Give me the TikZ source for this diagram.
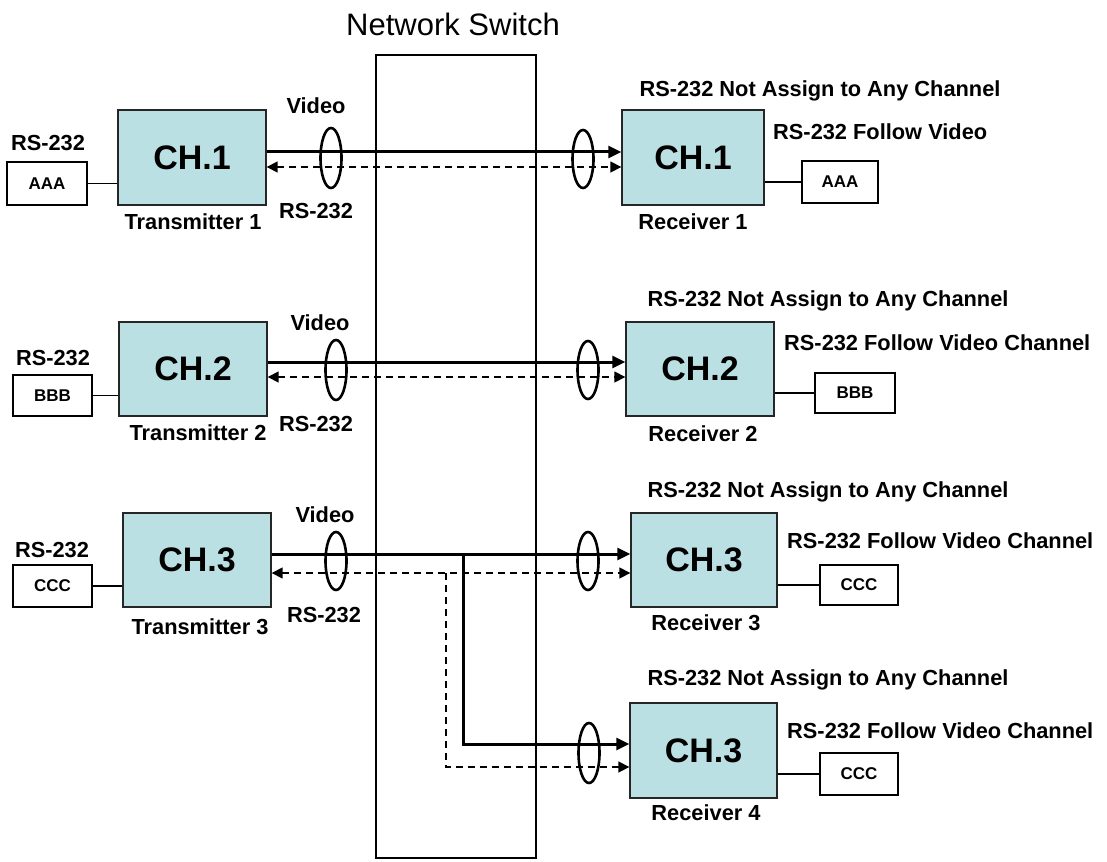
\documentclass[tikz,border=0pt]{standalone}
\usepackage{fontspec}
\setmainfont{Liberation Sans}
\usetikzlibrary{arrows.meta,shapes.geometric}
\definecolor{chfill}{RGB}{187,224,227}
\tikzset{
  chbox/.style={draw=black!85, line width=1.4pt, fill=chfill, inner sep=0pt,
    font=\fontsize{34}{38}\selectfont\bfseries},
  devbox/.style={draw=black, line width=1.1pt, fill=white, inner sep=0pt,
    font=\fontsize{17}{20}\selectfont\bfseries},
  lbl/.style={inner sep=0pt, font=\fontsize{21.8}{25}\selectfont\bfseries},
  video/.style={line width=3pt, -{Triangle[length=13pt,width=12pt]}},
  rsline/.style={line width=1.6pt, dash pattern=on 7pt off 5pt},
  rstip/.style={-{Triangle[length=11pt,width=11pt]}},
  rstips/.style={{Triangle[length=11pt,width=11pt]}-{Triangle[length=11pt,width=11pt]}},
  bundle/.style={draw, line width=2.6pt, ellipse, inner sep=0pt, minimum width=21pt},
  link/.style={line width=1.1pt},
}
\begin{document}
\begin{tikzpicture}[x=1pt,y=-1pt]
\useasboundingbox (0,0) rectangle (1107,861);
% switch
\node[draw, line width=2.4pt, minimum width=160pt, minimum height=803pt, inner sep=0pt] (sw) at (456,456.5) {};
\node[inner sep=0pt, font=\fontsize{31}{36}\selectfont] (swl) at (453,24) {Network Switch};

% transmitters
\node[chbox, minimum width=148pt, minimum height=95pt] (t1) at (192,157.5) {CH.1};
\node[chbox, minimum width=148pt, minimum height=94pt] (t2) at (193,369) {CH.2};
\node[chbox, minimum width=148pt, minimum height=94pt] (t3) at (197,560) {CH.3};
% receivers
\node[chbox, minimum width=142pt, minimum height=95pt] (r1) at (693,157.5) {CH.1};
\node[chbox, minimum width=148pt, minimum height=94pt] (r2) at (700,369) {CH.2};
\node[chbox, minimum width=146pt, minimum height=94pt] (r3) at (704,560) {CH.3};
\node[chbox, minimum width=147pt, minimum height=95pt] (r4) at (703.5,750.5) {CH.3};

% left devices
\node[devbox, minimum width=80pt, minimum height=43pt] (la) at (47,183.5) {AAA};
\node[devbox, minimum width=79pt, minimum height=41pt] (lb) at (52.5,395.5) {BBB};
\node[devbox, minimum width=79pt, minimum height=42pt] (lc) at (52.5,586) {CCC};
% right devices
\node[devbox, minimum width=76pt, minimum height=42pt] (ra) at (840,182) {AAA};
\node[devbox, minimum width=80pt, minimum height=40pt] (rb) at (855,393) {BBB};
\node[devbox, minimum width=78pt, minimum height=40pt] (rc) at (859,585) {CCC};
\node[devbox, minimum width=78pt, minimum height=42pt] (rd) at (859,774) {CCC};

% device links
\draw[link] (la.east) -- (la.east -| t1.west);
\draw[link] (lb.east) -- (lb.east -| t2.west);
\draw[link] (lc.east) -- (lc.east -| t3.west);
\draw[link] (ra.west -| r1.east) -- (ra.west);
\draw[link] (rb.west -| r2.east) -- (rb.west);
\draw[link] (rc.west -| r3.east) -- (rc.west);
\draw[link] (rd.west -| r4.east) -- (rd.west);

% row 1 links
\draw[video] ([yshift=5.5pt]t1.east) -- ([yshift=5.5pt]r1.west);
\draw[rsline, rstips] ([yshift=-9.5pt]t1.east) -- ([yshift=-9.5pt]r1.west);
% row 2
\draw[video] ([yshift=7pt]t2.east) -- ([yshift=7pt]r2.west);
\draw[rsline, rstips] ([yshift=-8pt]t2.east) -- ([yshift=-8pt]r2.west);
% row 3
\draw[video] ([yshift=6pt]t3.east) -- ([yshift=6pt]r3.west);
\draw[rsline, rstips] ([yshift=-13pt]t3.east) -- ([yshift=-13pt]r3.west);
% branch to receiver 4
\coordinate (bv) at (463,554);
\coordinate (bd) at (446,573);
\draw[video] (bv) |- ([yshift=6.5pt]r4.west);
\draw[rsline, rstip] (bd) |- ([yshift=-16.5pt]r4.west);

% bundle ellipses
\node[bundle, minimum height=60pt] (e1l) at (331,158) {};
\node[bundle, minimum height=58pt] (e1r) at (583,159) {};
\node[bundle, minimum height=60pt] (e2l) at (336,370) {};
\node[bundle, minimum height=58pt] (e2r) at (588,370) {};
\node[bundle, minimum height=58pt] (e3l) at (336,561) {};
\node[bundle, minimum height=58pt] (e3r) at (588,561) {};
\node[bundle, minimum height=60pt] (e4r) at (589,753) {};

% left labels
\node[lbl] (l1a) at (48,143) {RS-232};
\node[lbl] (l1b) at (316,106) {Video};
\node[lbl] (l1c) at (316,211) {RS-232};
\node[lbl] (l1d) at (193,222) {Transmitter 1};
\node[lbl] (l2a) at (53,358) {RS-232};
\node[lbl] (l2b) at (320,323) {Video};
\node[lbl] (l2c) at (316,424) {RS-232};
\node[lbl] (l2d) at (198,433) {Transmitter 2};
\node[lbl] (l3a) at (52,550) {RS-232};
\node[lbl] (l3b) at (325,515) {Video};
\node[lbl] (l3c) at (324,615) {RS-232};
\node[lbl] (l3d) at (200,627) {Transmitter 3};

% right labels
\node[lbl] (m1a) at (820,91) {RS-232 Not Assign to Any Channel};
\node[lbl, anchor=west] (m1b) at (773,132) {RS-232 Follow Video};
\node[lbl] (m1c) at (693,222) {Receiver 1};
\node[lbl] (m2a) at (828,301) {RS-232 Not Assign to Any Channel};
\node[lbl, anchor=west] (m2b) at (784,343) {RS-232 Follow Video Channel};
\node[lbl] (m2c) at (703,434) {Receiver 2};
\node[lbl] (m3a) at (828,492) {RS-232 Not Assign to Any Channel};
\node[lbl, anchor=west] (m3b) at (787,541) {RS-232 Follow Video Channel};
\node[lbl] (m3c) at (706,623) {Receiver 3};
\node[lbl] (m4a) at (828,680) {RS-232 Not Assign to Any Channel};
\node[lbl, anchor=west] (m4b) at (787,731) {RS-232 Follow Video Channel};
\node[lbl] (m4c) at (706,813) {Receiver 4};
\end{tikzpicture}
\end{document}
